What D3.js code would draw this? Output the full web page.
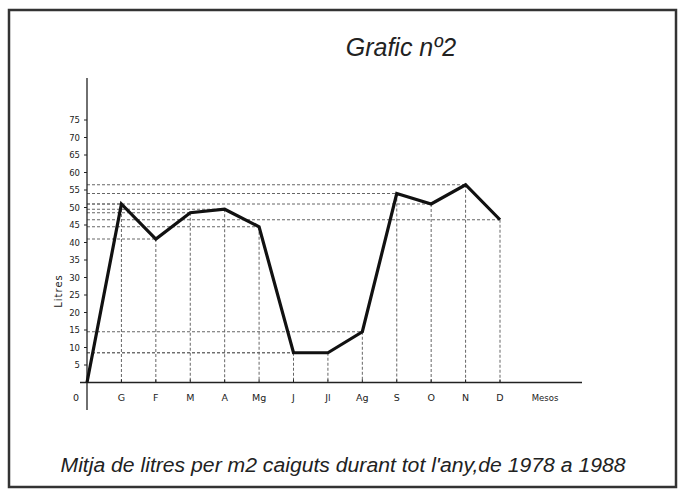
<!DOCTYPE html>
<html>
<head>
<meta charset="utf-8">
<script src="https://cdn.jsdelivr.net/npm/d3@7"></script>
<style>
  body { margin: 0; background: #fff; }
  svg text { fill: #222; }
</style>
</head>
<body>
<svg id="chart" width="684" height="489"></svg>
<script>
// data (litres per m2, monthly mean 1978-1988)
var months = ["G", "F", "M", "A", "Mg", "J", "Jl", "Ag", "S", "O", "N", "D"];
var litres = [51, 41, 48.5, 49.5, 44.5, 8.5, 8.5, 14.5, 54, 51, 56.5, 46.5];
var yTicks = [5, 10, 15, 20, 25, 30, 35, 40, 45, 50, 55, 60, 65, 70, 75];

var svg = d3.select("#chart");

// frame
svg.append("rect")
  .attr("x", 9).attr("y", 10)
  .attr("width", 667).attr("height", 477)
  .attr("fill", "none")
  .attr("stroke", "#333")
  .attr("stroke-width", 2.5);

// scales
var x = d3.scaleLinear().domain([0, 12]).range([87, 500]);
var y = d3.scaleLinear().domain([0, 75]).range([382.5, 120]);

// points, the line starts at the origin
var points = [{m: "0", i: 0, v: 0}].concat(months.map(function(m, i) {
  return {m: m, i: i + 1, v: litres[i]};
}));

// dotted guide lines
var guides = svg.append("g")
  .attr("stroke", "#666")
  .attr("stroke-width", 1)
  .attr("stroke-dasharray", "3,2");

guides.selectAll(".hguide")
  .data(points.slice(1))
  .enter()
  .append("line")
  .attr("x1", x(0))
  .attr("x2", function(d) { return x(d.i); })
  .attr("y1", function(d) { return y(d.v); })
  .attr("y2", function(d) { return y(d.v); });

guides.selectAll(".vguide")
  .data(points.slice(1))
  .enter()
  .append("line")
  .attr("x1", function(d) { return x(d.i); })
  .attr("x2", function(d) { return x(d.i); })
  .attr("y1", function(d) { return y(d.v); })
  .attr("y2", y(0));

// axes
svg.append("line")
  .attr("x1", x(0)).attr("x2", x(0))
  .attr("y1", 78).attr("y2", 410)
  .attr("stroke", "#222").attr("stroke-width", 1.3);

svg.append("line")
  .attr("x1", 80).attr("x2", 582)
  .attr("y1", y(0)).attr("y2", y(0))
  .attr("stroke", "#222").attr("stroke-width", 1.3);

// y ticks and labels
svg.selectAll(".ytick")
  .data(yTicks)
  .enter()
  .append("line")
  .attr("x1", x(0) - 3).attr("x2", x(0))
  .attr("y1", function(d) { return y(d); })
  .attr("y2", function(d) { return y(d); })
  .attr("stroke", "#222");

svg.selectAll(".ylabel")
  .data(yTicks)
  .enter()
  .append("text")
  .attr("x", 80)
  .attr("y", function(d) { return y(d) + 3; })
  .attr("text-anchor", "end")
  .style("font-family", "DejaVu Sans")
  .style("font-size", "8.5px")
  .text(function(d) { return d; });

// x ticks and labels
svg.selectAll(".xtick")
  .data(points.slice(1))
  .enter()
  .append("line")
  .attr("x1", function(d) { return x(d.i); })
  .attr("x2", function(d) { return x(d.i); })
  .attr("y1", y(0) - 3).attr("y2", y(0))
  .attr("stroke", "#222");

svg.selectAll(".xlabel")
  .data(points)
  .enter()
  .append("text")
  .attr("x", function(d) { return d.i === 0 ? 76 : x(d.i); })
  .attr("y", 401)
  .attr("text-anchor", "middle")
  .style("font-family", "DejaVu Sans")
  .style("font-size", "9.5px")
  .text(function(d) { return d.m; });

svg.append("text")
  .attr("x", 545).attr("y", 401)
  .attr("text-anchor", "middle")
  .style("font-family", "DejaVu Sans")
  .style("font-size", "8.5px")
  .text("Mesos");

svg.append("text")
  .attr("transform", "translate(62,291)rotate(-90)")
  .attr("text-anchor", "middle")
  .style("font-family", "DejaVu Sans")
  .style("font-size", "10px")
  .style("letter-spacing", "1px")
  .text("Litres");

// the data line
var line = d3.line()
  .x(function(d) { return x(d.i); })
  .y(function(d) { return y(d.v); });

svg.append("path")
  .datum(points)
  .attr("d", line)
  .attr("fill", "none")
  .attr("stroke", "#111")
  .attr("stroke-width", 3.2)
  .attr("stroke-linejoin", "miter");

// titles
svg.append("text")
  .attr("x", 401).attr("y", 56)
  .attr("text-anchor", "middle")
  .style("font-family", "Liberation Sans")
  .style("font-style", "italic")
  .style("font-size", "25px")
  .text("Grafic nº2");

svg.append("text")
  .attr("x", 343).attr("y", 472)
  .attr("text-anchor", "middle")
  .attr("textLength", 565)
  .attr("lengthAdjust", "spacingAndGlyphs")
  .style("font-family", "Liberation Sans")
  .style("font-style", "italic")
  .style("font-size", "20px")
  .text("Mitja de litres per m2 caiguts durant tot l'any,de 1978 a 1988");
</script>
</body>
</html>
